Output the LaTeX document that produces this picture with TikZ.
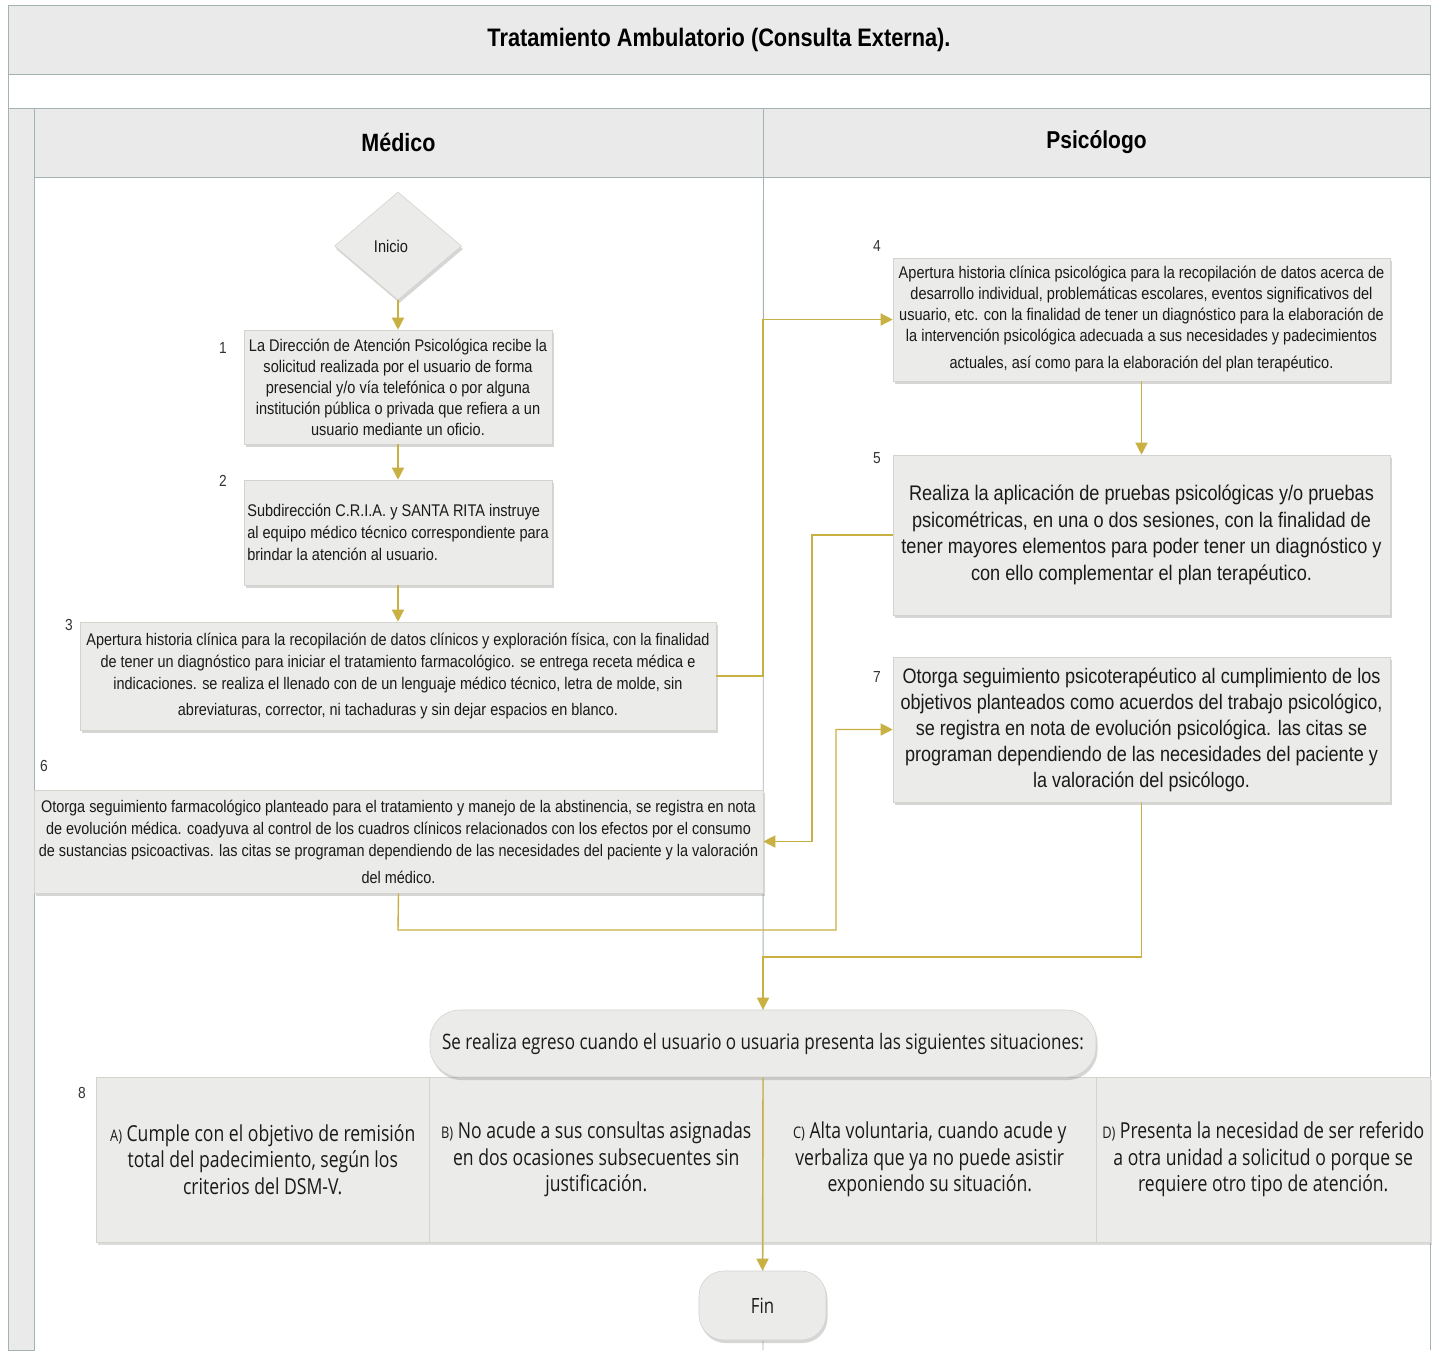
\documentclass[tikz,border=0pt]{standalone}
\usepackage{fontspec}
\setmainfont{Liberation Sans}[FakeStretch=0.86]
\newfontfamily\segoe{Open Sans}[FakeStretch=0.8]
\usetikzlibrary{shapes.geometric,shadows,arrows.meta}
\newcommand\fsz[2]{\fontsize{#1}{#2}\selectfont}
\definecolor{hdrfill}{HTML}{EAEAEA}
\definecolor{hdrline}{HTML}{A3B3B3}
\definecolor{boxfill}{HTML}{EBEBEA}
\definecolor{boxline}{HTML}{D4D4CE}
\definecolor{flowc}{HTML}{C8B043}
\definecolor{txtc}{HTML}{1A1A1A}
\definecolor{numc}{HTML}{333333}
\tikzset{
  lanehdr/.style={draw=hdrline, fill=hdrfill, line width=0.9pt, inner sep=0pt, text=black},
  stepbox/.style={draw=boxline, fill=boxfill, line width=0.6pt, inner sep=0pt, align=center, text=txtc,
    drop shadow={shadow xshift=1.5pt, shadow yshift=-3pt, opacity=0.35, fill=black!45}},
  cellbox/.style={draw=boxline, fill=boxfill, line width=0.6pt, inner sep=0pt, align=center, text=txtc,
    minimum width=333.5pt, minimum height=165pt, font=\segoe\fsz{22}{26.5},
    drop shadow={shadow xshift=1.5pt, shadow yshift=-3pt, opacity=0.3, fill=black!45}},
  numlbl/.style={text=numc, font=\fsz{16}{18}, inner sep=0pt},
  flow/.style={draw=flowc, line width=1.4pt, -{Triangle[length=12pt,width=12pt]}},
}
\begin{document}
\begin{tikzpicture}[x=1pt,y=-1pt]
\useasboundingbox (0,0) rectangle (1438,1350);
\fill[white] (0,0) rectangle (1438,1350);

% pool frame
\node[lanehdr, minimum width=1422pt, minimum height=69pt, font=\bfseries\fsz{25.3}{30}] (title) at (719,39.5) {Tratamiento Ambulatorio (Consulta Externa).};
\coordinate (fl1) at (8,74);
\coordinate (fl2) at (8,1350);
\coordinate (fr1) at (1430,74);
\coordinate (fr2) at (1430,1350);
\draw[hdrline, line width=0.9pt] (fl1) -- (fl2);
\draw[hdrline, line width=0.9pt] (fr1) -- (fr2);
\node[lanehdr, minimum width=26pt, minimum height=1242pt] (strip) at (21,729) {};
\node[lanehdr, minimum width=729pt, minimum height=69pt, font=\bfseries\fsz{25}{30}] (hm) at (398.5,142.5) {Médico};
\node[lanehdr, minimum width=667pt, minimum height=69pt, font=\bfseries\fsz{24.4}{30}] (hp) at (1096.5,142.5) {Psicólogo};
\coordinate (divbot) at (763,1350);
\draw[hdrline, line width=0.9pt] (hm.south east) -- (divbot);

% junction coordinates
\coordinate (j1) at (763,676);
\coordinate (j2) at (812,535);
\coordinate (j3) at (398,930);
\coordinate (j4) at (836,930);
\coordinate (j5) at (763,957);

% steps
\node[diamond, draw=boxline, fill=boxfill, line width=0.6pt, minimum width=127pt, minimum height=108pt, inner sep=0pt,
  text=txtc, font=\fsz{17}{20},
  drop shadow={shadow xshift=1.5pt, shadow yshift=-3pt, opacity=0.35, fill=black!45}] (ini) at (398,246) {\hspace*{-14pt}Inicio};

\node[stepbox, minimum width=308pt, minimum height=114pt, font=\fsz{16.9}{21}] (b1) at (398,387) {La Dirección de Atención Psicológica recibe la\\solicitud realizada por el usuario de forma\\presencial y/o vía telefónica o por alguna\\institución pública o privada que refiera a un\\usuario mediante un oficio.};
\node[numlbl] (n1) at (223,348) {1};

\node[stepbox, minimum width=308pt, minimum height=105pt, font=\fsz{16.9}{22}, align=left] (b2) at (398,532.5) {\makebox[300pt][l]{Subdirección C.R.I.A. y SANTA RITA instruye}\\al equipo médico técnico correspondiente para\\brindar la atención al usuario.};
\node[numlbl] (n2) at (223,481) {2};

\node[stepbox, minimum width=636pt, minimum height=108pt, font=\fsz{16.8}{22}] (b3) at (398,676) {Apertura historia clínica para la recopilación de datos clínicos y exploración física, con la finalidad\\de tener un diagnóstico para iniciar el tratamiento farmacológico. se entrega receta médica e\\indicaciones. se realiza el llenado con de un lenguaje médico técnico, letra de molde, sin\\[4pt]abreviaturas, corrector, ni tachaduras y sin dejar espacios en blanco.};
\node[numlbl] (n3) at (69,625) {3};

\node[stepbox, minimum width=729pt, minimum height=103pt, font=\fsz{16.8}{22}] (b6) at (398.5,841.5) {Otorga seguimiento farmacológico planteado para el tratamiento y manejo de la abstinencia, se registra en nota\\de evolución médica. coadyuva al control de los cuadros clínicos relacionados con los efectos por el consumo\\de sustancias psicoactivas. las citas se programan dependiendo de las necesidades del paciente y la valoración\\[5pt]del médico.};
\node[numlbl] (n6) at (44,766) {6};

\node[stepbox, minimum width=497pt, minimum height=123pt, font=\fsz{16.9}{21}] (b4) at (1141.5,319.5) {Apertura historia clínica psicológica para la recopilación de datos acerca de\\desarrollo individual, problemáticas escolares, eventos significativos del\\usuario, etc. con la finalidad de tener un diagnóstico para la elaboración de\\la intervención psicológica adecuada a sus necesidades y padecimientos\\[6pt]actuales, así como para la elaboración del plan terapéutico.};
\node[numlbl] (n4) at (877,246) {4};

\node[stepbox, minimum width=497pt, minimum height=160pt, font=\fsz{21.1}{26.5}] (b5) at (1141.5,535) {Realiza la aplicación de pruebas psicológicas y/o pruebas\\psicométricas, en una o dos sesiones, con la finalidad de\\tener mayores elementos para poder tener un diagnóstico y\\con ello complementar el plan terapéutico.};
\node[numlbl] (n5) at (877,458) {5};

\node[stepbox, minimum width=497pt, minimum height=145pt, font=\fsz{21}{26}] (b7) at (1141.5,729.5) {Otorga seguimiento psicoterapéutico al cumplimiento de los\\objetivos planteados como acuerdos del trabajo psicológico,\\se registra en nota de evolución psicológica. las citas se\\programan dependiendo de las necesidades del paciente y\\la valoración del psicólogo.};
\node[numlbl] (n7) at (877,677) {7};

% exit
\node[cellbox] (c1) at (262.75,1159.5) {{\fsz{16}{20}A)} Cumple con el objetivo de remisión\\total del padecimiento, según los\\criterios del DSM-V.};
\node[cellbox] (c2) at (596.25,1159.5) {{\fsz{16}{20}B)} No acude a sus consultas asignadas\\en dos ocasiones subsecuentes sin\\justificación.};
\node[cellbox] (c3) at (929.75,1159.5) {{\fsz{16}{20}C)} Alta voluntaria, cuando acude y\\verbaliza que ya no puede asistir\\exponiendo su situación.};
\node[cellbox] (c4) at (1263.25,1159.5) {{\fsz{16}{20}D)} Presenta la necesidad de ser referido\\a otra unidad a solicitud o porque se\\requiere otro tipo de atención.};
\node[numlbl] (n8) at (82,1093) {8};

\node[stepbox, rounded corners=30pt, minimum width=666pt, minimum height=67pt, font=\segoe\fsz{21.3}{24}] (term) at (763,1043.5) {Se realiza egreso cuando el usuario o usuaria presenta las siguientes situaciones:};
\node[stepbox, rounded corners=25pt, minimum width=127pt, minimum height=69pt, font=\segoe\fsz{21}{24}] (fin) at (762.5,1305.5) {Fin};

% connectors
\draw[flow] (ini.south) -- (b1.north);
\draw[flow] (b1.south) -- (b2.north);
\draw[flow] (b2.south) -- (b3.north);
\draw[flow] (b3.east) -- (j1) |- (b4.west);
\draw[flow] (b4.south) -- (b5.north);
\draw[flow] (b5.west) -- (j2) |- (b6.east);
\draw[flow] (b6.south) -- (j3) -- (j4) |- (b7.west);
\draw[flow] (b7.south) |- (j5) -- (term.north);
\draw[flow] (term.south) -- (fin.north);
\end{tikzpicture}
\end{document}
